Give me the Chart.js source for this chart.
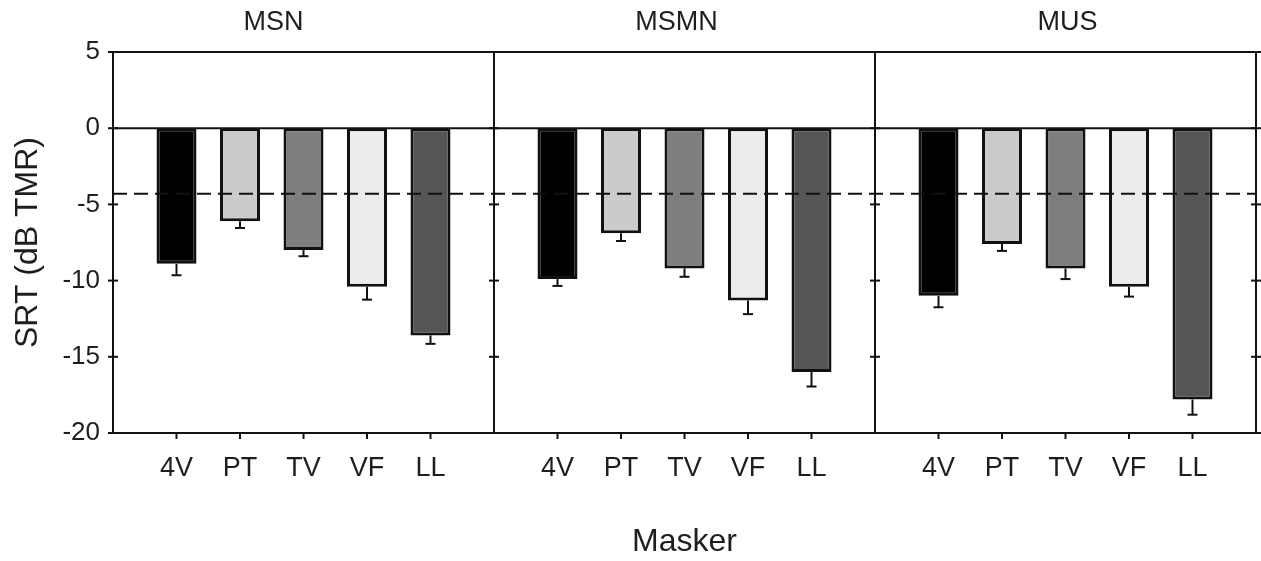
<!DOCTYPE html>
<html>
<head>
<meta charset="utf-8">
<script src="https://cdn.jsdelivr.net/npm/chart.js@4.4.1/dist/chart.umd.min.js"></script>
<style>
    html, body { margin: 0; padding: 0; background: #fff; }
    #contenedor { width: 1261px; height: 561px; }
</style>
</head>
<body>
<div id="contenedor"><canvas id="grafica-srt"></canvas></div>
<script>
//Condiciones (paneles) y enmascaradores (barras)
const condiciones = ['MSN', 'MSMN', 'MUS'];
const enmascaradores = ['4V', 'PT', 'TV', 'VF', 'LL'];

//SRT medio por condición (dB TMR)
const srtMSN  = [-8.9, -6.1, -8.0, -10.4, -13.6];
const srtMSMN = [-9.9, -6.9, -9.2, -11.3, -16.0];
const srtMUS  = [-11.0, -7.6, -9.2, -10.4, -17.8];

//Error estándar (se dibuja solo hacia abajo)
const errMSN  = [0.75, 0.45, 0.4, 0.85, 0.55];
const errMSMN = [0.45, 0.5, 0.55, 0.9, 0.95];
const errMUS  = [0.75, 0.45, 0.7, 0.65, 1.0];

//Línea de referencia discontinua
const referencia = -4.3;

//Marcas del eje Y
const ticksY = [5, 0, -5, -10, -15, -20];

//Relleno de cada enmascarador
const rellenos = ['#000000', '#cbcbcb', '#7e7e7e', '#ececec', '#555555'];

const fuente = 'Arial, "Liberation Sans", sans-serif';
const colorTexto = '#1e1e1e';

//Categorías: un hueco vacío entre paneles y en los extremos
const series = [srtMSN, srtMSMN, srtMUS];
const errores = [errMSN, errMSMN, errMUS];
const etiquetas = [''];
const valores = [null];
const errs = [null];
const colores = ['#fff'];
series.forEach((s, p) => {
    s.forEach((v, i) => {
        etiquetas.push(enmascaradores[i]);
        valores.push(v);
        errs.push(errores[p][i]);
        colores.push(rellenos[i]);
    });
    etiquetas.push('');
    valores.push(null);
    errs.push(null);
    colores.push('#fff');
});

//Marco, divisiones, línea de cero, referencia, barras de error y títulos
const marcoPaneles = {
    id: 'marcoPaneles',
    afterDatasetsDraw(chart) {
        const { ctx, chartArea: a, scales: { x, y } } = chart;
        const linea = (x0, y0, x1, y1) => {
            ctx.beginPath();
            ctx.moveTo(x0, y0);
            ctx.lineTo(x1, y1);
            ctx.stroke();
        };
        ctx.save();
        ctx.strokeStyle = '#111';
        ctx.lineWidth = 2;

        //Barras de error
        valores.forEach((v, i) => {
            if (v === null) return;
            const px = x.getPixelForValue(i);
            const y0 = y.getPixelForValue(v);
            const y1 = y.getPixelForValue(v - errs[i]);
            linea(px, y0, px, y1);
            linea(px - 5, y1, px + 5, y1);
        });

        //Línea de cero
        const y0 = y.getPixelForValue(0);
        linea(a.left, y0, a.right, y0);

        //Referencia discontinua
        ctx.setLineDash([14, 7]);
        const yr = y.getPixelForValue(referencia);
        linea(a.left, yr, a.right, yr);
        ctx.setLineDash([]);

        //Marco
        ctx.strokeRect(a.left, a.top, a.right - a.left, a.bottom - a.top);

        //Divisiones entre paneles y marcas del eje Y
        const bordes = [0];
        etiquetas.forEach((e, i) => { if (e === '' && i > 0) bordes.push(i); });
        bordes.forEach(i => {
            const bx = x.getPixelForValue(i);
            linea(bx, a.top, bx, a.bottom);
            ticksY.forEach(t => {
                const ty = y.getPixelForValue(t);
                linea(bx - 5, ty, bx + 5, ty);
            });
        });

        //Marcas del eje X
        valores.forEach((v, i) => {
            if (v === null) return;
            const px = x.getPixelForValue(i);
            linea(px, a.bottom, px, a.bottom + 6);
        });

        //Títulos de los paneles
        const desplTitulo = [-30, -8, 2];
        ctx.fillStyle = colorTexto;
        ctx.font = '27px ' + fuente;
        ctx.textAlign = 'center';
        ctx.textBaseline = 'middle';
        condiciones.forEach((c, p) => {
            const cx = x.getPixelForValue(p * 6 + 3) + desplTitulo[p];
            ctx.fillText(c, cx, 23);
        });
        ctx.restore();
    }
};

new Chart(document.getElementById('grafica-srt'), {
    type: 'bar',
    data: {
        labels: etiquetas,
        datasets: [{
            label: 'SRT',
            data: valores,
            backgroundColor: colores,
            borderColor: '#111',
            borderWidth: 3,
            borderSkipped: false,
            categoryPercentage: 0.7,
            barPercentage: 0.9
        }]
    },
    options: {
        responsive: true,
        maintainAspectRatio: false,
        animation: false,
        layout: { padding: { top: 52, right: 5, left: 0, bottom: 0 } },
        plugins: {
            legend: { display: false },
            tooltip: { enabled: false }
        },
        scales: {
            x: {
                type: 'category',
                offset: false,
                grid: { display: false, drawTicks: false },
                border: { display: false },
                ticks: {
                    autoSkip: false,
                    maxRotation: 0,
                    padding: 19,
                    color: colorTexto,
                    font: { family: fuente, size: 27 }
                },
                title: {
                    display: true,
                    text: 'Masker',
                    color: colorTexto,
                    font: { family: fuente, size: 32 },
                    padding: { top: 0, bottom: 0 }
                },
                afterFit(scale) {
                    scale.height = 128;
                    scale.paddingLeft = 0;
                    scale.paddingRight = 0;
                }
            },
            y: {
                min: -20,
                max: 5,
                grid: { display: false, drawTicks: false },
                border: { display: false },
                ticks: {
                    stepSize: 5,
                    padding: 13,
                    color: colorTexto,
                    font: { family: fuente, size: 26 }
                },
                title: {
                    display: true,
                    text: 'SRT (dB TMR)',
                    color: colorTexto,
                    font: { family: fuente, size: 32 },
                    padding: { top: 9, bottom: 0 }
                },
                afterFit(scale) {
                    scale.width = 113;
                    scale.paddingTop = 0;
                    scale.paddingBottom = 0;
                }
            }
        }
    },
    plugins: [marcoPaneles]
});
</script>
</body>
</html>
